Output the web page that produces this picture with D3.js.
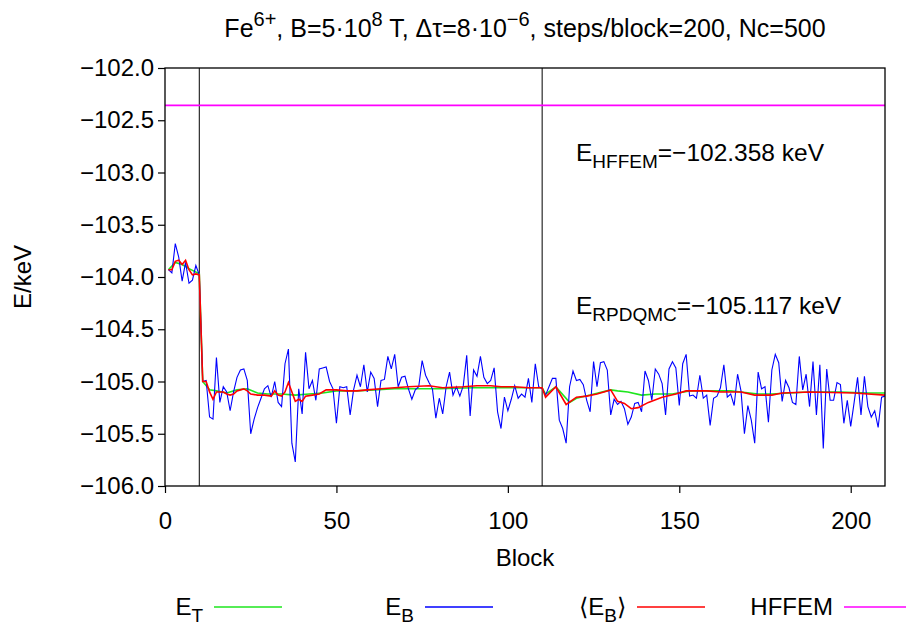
<!DOCTYPE html>
<html>
<head>
<meta charset="utf-8">
<script src="https://cdn.jsdelivr.net/npm/d3@7"></script>
<style>
  html, body { margin: 0; padding: 0; background: #fff; }
  svg { display: block; font-family: "Liberation Sans", Arial, Helvetica, sans-serif; }
</style>
</head>
<body>
<svg id="chart" width="906" height="626"></svg>
<script>
// Block-by-block energy E_B (keV), blocks 1..210
const blueValues = [
  -103.93,-103.96,-103.68,-103.81,-104.04,-103.86,-104.06,-104.03,-103.89,-103.98,
  -105.00,-104.99,-105.34,-105.36,-104.77,-105.20,-105.05,-105.10,-105.28,-105.10,
  -104.96,-104.89,-104.88,-104.99,-105.50,-105.36,-105.25,-105.16,-105.07,-105.04,
  -105.15,-105.00,-105.20,-105.24,-104.83,-104.69,-105.59,-105.77,-105.07,-105.31,
  -104.72,-105.07,-104.99,-105.18,-104.88,-104.87,-104.86,-105.00,-105.07,-105.40,
  -105.05,-105.06,-105.05,-105.32,-105.08,-104.94,-105.05,-104.84,-105.10,-104.91,
  -104.97,-105.24,-104.99,-104.98,-104.76,-104.88,-104.74,-105.05,-104.96,-104.95,
  -105.07,-105.17,-105.08,-105.05,-104.80,-104.94,-105.01,-105.07,-105.35,-105.16,
  -105.31,-105.05,-104.91,-105.13,-105.05,-105.14,-105.04,-104.75,-105.33,-104.89,
  -104.95,-104.76,-104.96,-105.02,-104.99,-104.87,-105.29,-105.45,-105.15,-105.28,
  -105.17,-105.04,-105.16,-105.12,-105.15,-104.97,-105.20,-104.83,-105.05,-105.07,
  -105.13,-105.05,-104.97,-104.97,-105.37,-105.45,-105.59,-105.05,-104.90,-104.99,
  -104.98,-105.03,-105.18,-105.29,-104.81,-105.05,-104.82,-104.81,-104.89,-105.32,
  -105.17,-105.22,-105.19,-105.26,-105.41,-105.34,-105.21,-105.20,-105.29,-104.90,
  -104.99,-105.18,-104.88,-104.93,-105.02,-105.32,-104.88,-104.81,-104.87,-105.23,
  -104.83,-104.74,-105.14,-105.13,-105.16,-104.94,-105.16,-105.13,-105.42,-105.16,
  -105.14,-105.06,-104.84,-105.15,-105.12,-105.23,-104.93,-105.09,-105.50,-105.23,
  -105.37,-105.59,-104.91,-105.07,-105.05,-105.39,-104.89,-104.74,-104.82,-105.19,
  -104.99,-105.06,-105.20,-105.22,-104.76,-105.08,-104.93,-105.24,-104.81,-105.32,
  -104.84,-105.64,-104.88,-105.18,-105.18,-105.01,-105.03,-105.40,-105.18,-105.43,
  -105.20,-104.96,-105.32,-104.95,-105.24,-105.34,-105.28,-105.44,-105.15,-105.14
];

// Averaged energy <E_B> (keV)
const redBlocks = [1,2,3,4,5,6,7,8,9,10,11,12,13,14,15,16,17,18,19,20,21,22,23,24,25,27,29,31,32,33,34,35,36,38,39,40,41,43,45,47,50,53,56,59,63,67,71,77,81,87,91,95,98,102,106,110,111,114,117,120,123,126,130,132,134,136,138,141,145,149,152,158,162,168,172,177,180,188,201,210];
const redValues = [-103.93,-103.93,-103.85,-103.84,-103.88,-103.84,-103.93,-103.98,-103.97,-103.98,-105.00,-105.00,-105.10,-105.17,-105.10,-105.10,-105.10,-105.12,-105.13,-105.12,-105.09,-105.08,-105.07,-105.09,-105.12,-105.13,-105.13,-105.14,-105.09,-105.13,-105.14,-105.10,-105.01,-105.19,-105.17,-105.19,-105.14,-105.13,-105.12,-105.08,-105.08,-105.09,-105.09,-105.08,-105.07,-105.06,-105.05,-105.04,-105.06,-105.05,-105.04,-105.04,-105.05,-105.05,-105.06,-105.06,-105.15,-105.05,-105.22,-105.15,-105.14,-105.12,-105.08,-105.19,-105.21,-105.26,-105.25,-105.20,-105.15,-105.12,-105.09,-105.09,-105.10,-105.10,-105.13,-105.13,-105.11,-105.10,-105.11,-105.13];

// Trial energy E_T (keV)
const greenBlocks = [1,3,5,7,10,11,13,15,18,21,24,27,30,34,38,42,46,50,56,61,67,72,80,90,100,110,111,114,118,120,124,130,132,135,139,143,148,153,160,165,168,173,177,182,188,197,205,210];
const greenValues = [-103.93,-103.86,-103.88,-103.92,-103.97,-105.00,-105.08,-105.09,-105.11,-105.08,-105.07,-105.11,-105.12,-105.12,-105.13,-105.12,-105.11,-105.09,-105.09,-105.08,-105.07,-105.07,-105.07,-105.06,-105.06,-105.06,-105.12,-105.05,-105.20,-105.16,-105.13,-105.08,-105.09,-105.10,-105.13,-105.12,-105.12,-105.09,-105.09,-105.09,-105.10,-105.12,-105.12,-105.11,-105.10,-105.10,-105.11,-105.11];

const hffemEnergy = -102.358;
const rpdqmcEnergy = -105.117;
const markerBlocks = [10, 110];
const xTicks = [0, 50, 100, 150, 200];
const yTicks = [-106.0, -105.5, -105.0, -104.5, -104.0, -103.5, -103.0, -102.5, -102.0];

const FS = 24;
const svg = d3.select("#chart");
const plotLeft = 165, plotRight = 885, plotTop = 68, plotBottom = 486;

const x = d3.scaleLinear().domain([0, 210]).range([plotLeft, plotRight]);
const y = d3.scaleLinear().domain([-106, -102]).range([plotBottom, plotTop]);

// Axes
const yAxis = d3.axisLeft(y).tickValues(yTicks).tickFormat(d3.format(".1f")).tickSize(7).tickPadding(4);
const xAxis = d3.axisBottom(x).tickValues(xTicks).tickFormat(d3.format("d")).tickSize(7).tickPadding(19);

const gy = svg.append("g").attr("transform", `translate(${plotLeft},0)`).call(yAxis);
const gx = svg.append("g").attr("transform", `translate(0,${plotBottom})`).call(xAxis);
[gx, gy].forEach(g => {
  g.select(".domain").remove();
  g.selectAll("line").attr("stroke", "#000").attr("stroke-width", 1.2);
  g.selectAll("text").attr("font-size", FS).attr("fill", "#000")
    .attr("font-family", "Liberation Sans, Arial, sans-serif");
});

svg.append("clipPath").attr("id", "plotclip")
  .append("rect").attr("x", plotLeft).attr("y", plotTop)
  .attr("width", plotRight - plotLeft).attr("height", plotBottom - plotTop);

const plot = svg.append("g").attr("clip-path", "url(#plotclip)");

// Equilibration markers
plot.selectAll("line.marker").data(markerBlocks).enter().append("line")
  .attr("class", "marker")
  .attr("x1", d => x(d)).attr("x2", d => x(d))
  .attr("y1", plotTop).attr("y2", plotBottom)
  .attr("stroke", "#000").attr("stroke-width", 1);

const line = d3.line().x(d => x(d[0])).y(d => y(d[1]));

const greenData = greenBlocks.map((b, i) => [b, greenValues[i]]);
const blueData = blueValues.map((v, i) => [i + 1, v]);
const redData = redBlocks.map((b, i) => [b, redValues[i]]);

plot.append("path").datum(greenData).attr("d", line)
  .attr("fill", "none").attr("stroke", "#1ee61e").attr("stroke-width", 1.6);
plot.append("path").datum(blueData).attr("d", line)
  .attr("fill", "none").attr("stroke", "#0000ff").attr("stroke-width", 1.1);
plot.append("path").datum(redData).attr("d", line)
  .attr("fill", "none").attr("stroke", "#ff0000").attr("stroke-width", 1.6);
plot.append("path").datum([[0, hffemEnergy], [210, hffemEnergy]]).attr("d", line)
  .attr("fill", "none").attr("stroke", "#ff00ff").attr("stroke-width", 1.6);

// Frame
svg.append("rect").attr("x", plotLeft).attr("y", plotTop)
  .attr("width", plotRight - plotLeft).attr("height", plotBottom - plotTop)
  .attr("fill", "none").attr("stroke", "#000").attr("stroke-width", 1.3);

// Rich text with sub/superscripts
function richText(parent, xPos, yPos, parts, size, anchor) {
  const t = parent.append("text").attr("x", xPos).attr("y", yPos)
    .attr("font-size", size).attr("text-anchor", anchor || "start").attr("fill", "#000");
  let shift = 0;
  parts.forEach(p => {
    let target = 0;
    if (p.s === "sup") target = -Math.round(size * 0.42);
    if (p.s === "sub") target = Math.round(size * 0.3);
    const ts = t.append("tspan").text(p.t).attr("dy", target - shift);
    if (p.s) ts.attr("font-size", Math.round(size * 0.78));
    shift = target;
  });
  return t;
}

// Title
richText(svg, (plotLeft + plotRight) / 2, 37, [
  { t: "Fe" }, { t: "6+", s: "sup" },
  { t: ", B=5·10" }, { t: "8", s: "sup" },
  { t: " T, Δτ=8·10" }, { t: "−6", s: "sup" },
  { t: ", steps/block=200, Nc=500" }
], 25, "middle");

// Axis titles
svg.append("text").attr("x", (plotLeft + plotRight) / 2).attr("y", 566)
  .attr("text-anchor", "middle").attr("font-size", FS).text("Block");
svg.append("text").attr("transform", "translate(31,277) rotate(-90)")
  .attr("text-anchor", "middle").attr("font-size", FS).text("E/keV");

// Energy annotations
const fmt = d3.format(".3f");
richText(svg, 576, 161, [
  { t: "E" }, { t: "HFFEM", s: "sub" }, { t: "=" + fmt(hffemEnergy) + " keV" }
], 24.5);
richText(svg, 576, 314, [
  { t: "E" }, { t: "RPDQMC", s: "sub" }, { t: "=" + fmt(rpdqmcEnergy) + " keV" }
], 24.5);

// Legend
const legendItems = [
  { parts: [{ t: "E" }, { t: "T", s: "sub" }], color: "#1ee61e", x0: 214 },
  { parts: [{ t: "E" }, { t: "B", s: "sub" }], color: "#0000ff", x0: 425 },
  { parts: [{ t: "⟨E" }, { t: "B", s: "sub" }, { t: "⟩" }], color: "#ff0000", x0: 637 },
  { parts: [{ t: "HFFEM" }], color: "#ff00ff", x0: 844 }
];
const legendY = 607;
legendItems.forEach(it => {
  richText(svg, it.x0 - 11, legendY + 8, it.parts, FS, "end");
  svg.append("line").attr("x1", it.x0).attr("x2", it.x0 + 68)
    .attr("y1", legendY).attr("y2", legendY)
    .attr("stroke", it.color).attr("stroke-width", 1.3);
});
</script>
</body>
</html>
